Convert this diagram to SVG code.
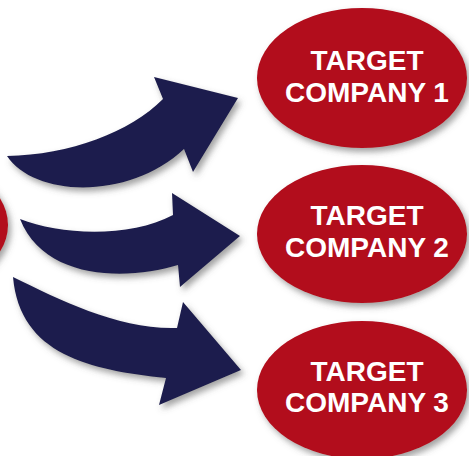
<svg xmlns="http://www.w3.org/2000/svg" width="469" height="456" viewBox="0 0 469 456">
  <defs>
    <filter id="shadow" x="-20%" y="-20%" width="150%" height="150%">
      <feDropShadow dx="3" dy="4" stdDeviation="3" flood-color="#555" flood-opacity="0.55"/>
    </filter>
  </defs>
  <style>
    .node ellipse { fill: #B20E1E; filter: url(#shadow); }
    .node text { font-family: "Liberation Sans", Arial, sans-serif; font-weight: bold; font-size: 28px; fill: #ffffff; text-anchor: middle; }
    .arrow { fill: #1C1D4E; filter: url(#shadow); }
  </style>
  <rect width="469" height="456" fill="#ffffff"/>
  <g id="source">
    <g class="node"><ellipse cx="-97" cy="225" rx="105" ry="70"/></g>
  </g>
  <g id="connectors">
    <path class="arrow" d="M7,156 C70,155 130,132 163,99 L154,77 L238,98 L193,172 L184,149 C130,200 35,198 7,156 Z"/>
    <path class="arrow" d="M20,219 C60,235 130,238 173,215 L172,193 L240,236 L180,287 L178,265 C130,280 45,282 20,219 Z"/>
    <path class="arrow" d="M13,277 C60,300 120,330 177,328 L183,302 L241,370 L159,405 L166,378 C90,370 20,355 13,277 Z"/>
  </g>
  <g id="target1" class="node">
    <ellipse cx="362" cy="78" rx="105" ry="70"/>
    <text x="367" y="70">TARGET</text>
    <text x="367" y="102">COMPANY 1</text>
  </g>
  <g id="target2" class="node">
    <ellipse cx="362" cy="234" rx="105" ry="69"/>
    <text x="367" y="225">TARGET</text>
    <text x="367" y="257">COMPANY 2</text>
  </g>
  <g id="target3" class="node">
    <ellipse cx="362" cy="390" rx="105" ry="69"/>
    <text x="367" y="381">TARGET</text>
    <text x="367" y="412">COMPANY 3</text>
  </g>
</svg>
